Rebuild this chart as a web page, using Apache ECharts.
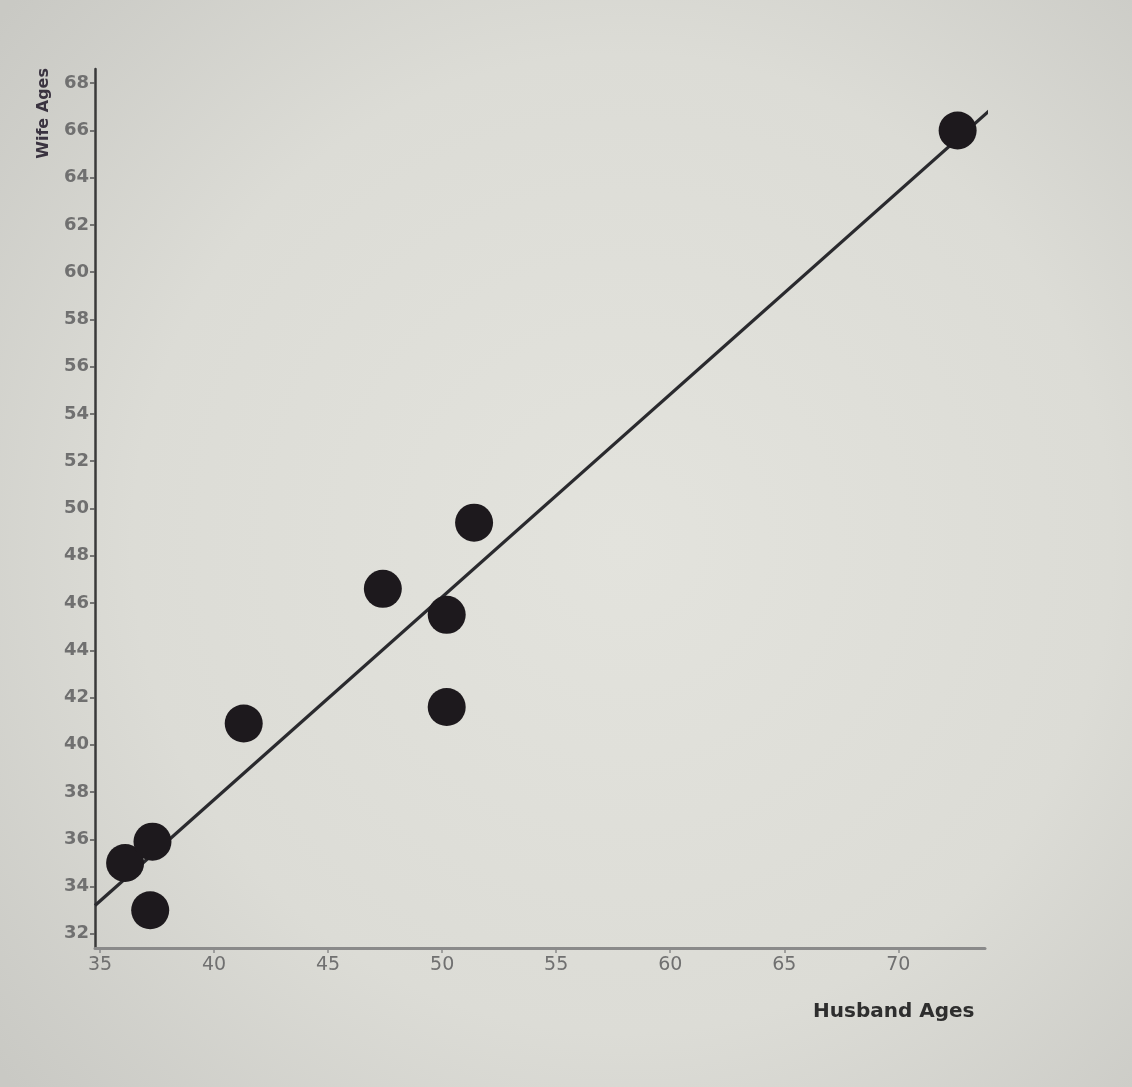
<!DOCTYPE html>
<html>
<head>
<meta charset="utf-8">
<script src="https://cdn.jsdelivr.net/npm/echarts@6/dist/echarts.min.js"></script>
<style>
html,body{margin:0;padding:0;background:#d6d6d0;}
#main{width:1132px;height:1087px;}
</style>
</head>
<body>
<div id="main"></div>
<script>
// Data
const husbandAges = [36.1, 37.3, 37.2, 41.3, 47.4, 50.2, 50.2, 51.4, 72.6];
const wifeAges    = [35.0, 35.9, 33.0, 40.9, 46.6, 45.5, 41.6, 49.4, 66.0];
// Fitted line end points
const lineHusband = [34.78, 74.3];
const lineWife    = [33.2, 67.1];
// Tick labels
const xTicks = [35, 40, 45, 50, 55, 60, 65, 70];
const yTicks = [32, 34, 36, 38, 40, 42, 44, 46, 48, 50, 52, 54, 56, 58, 60, 62, 64, 66, 68];

const points = husbandAges.map((h, i) => [h, wifeAges[i]]);
const linePts = lineHusband.map((h, i) => [h, lineWife[i]]);

const chart = echarts.init(document.getElementById('main'));
chart.setOption({
  backgroundColor: {
    type: 'radial', x: 0.55, y: 0.5, r: 0.75,
    colorStops: [
      {offset: 0, color: '#e3e3dd'},
      {offset: 0.6, color: '#dcdcd6'},
      {offset: 1, color: '#c9c9c4'}
    ]
  },
  animation: false,
  grid: {left: 95, right: 147, top: 69, bottom: 139},
  xAxis: {
    type: 'value',
    min: 34.78, max: 73.8,
    axisLine: {show: true, lineStyle: {color: '#8a8a8a', width: 3}},
    axisTick: {show: true, customValues: xTicks, length: 5, lineStyle: {color: '#8a8a8a', width: 1.5}},
    axisLabel: {customValues: xTicks, color: '#707070', fontSize: 19, fontFamily: 'DejaVu Sans', margin: 8},
    splitLine: {show: false}
  },
  yAxis: {
    type: 'value',
    min: 31.4, max: 68.6,
    axisLine: {show: true, lineStyle: {color: '#3a3a3a', width: 2.5}},
    axisTick: {show: true, customValues: yTicks, length: 5, lineStyle: {color: '#555', width: 1.5}},
    axisLabel: {customValues: yTicks, color: '#707070', fontSize: 18, fontFamily: 'DejaVu Sans', fontWeight: 'bold', margin: 6},
    splitLine: {show: false}
  },
  graphic: [
    {type: 'text', left: 36, top: 68, rotation: Math.PI / 2,
     style: {text: 'Wife Ages', fill: '#3a3340', font: 'bold 16px "DejaVu Sans"'}},
    {type: 'text', left: 813, top: 1002,
     style: {text: 'Husband Ages', fill: '#2e2e2e', font: 'bold 20px "DejaVu Sans"'}}
  ],
  series: [
    {
      type: 'line',
      data: linePts,
      symbol: 'none',
      lineStyle: {color: '#2a2a2e', width: 3.2},
      z: 2
    },
    {
      type: 'scatter',
      data: points,
      symbolSize: 38,
      itemStyle: {color: '#1d191d', opacity: 1},
      z: 3
    }
  ]
});
</script>
</body>
</html>
